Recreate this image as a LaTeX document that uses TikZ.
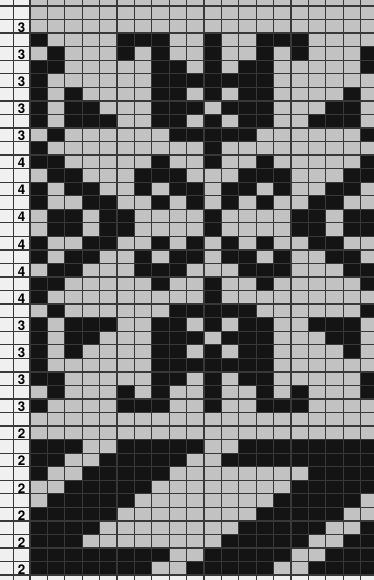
\documentclass[tikz,border=0pt]{standalone}
\usepackage{fontspec}
\setsansfont{TeX Gyre Heros}
\usepackage{xcolor}
\usepackage{tikz}
\definecolor{cellgray}{gray}{0.76}
\definecolor{margingray}{gray}{0.94}
\definecolor{ruleline}{gray}{0.22}
\newcommand{\CellW}{17.4}
\newcommand{\CellH}{13.55}
\newcommand{\RowTop}[1]{6+(#1-1)*\CellH}
\newcommand{\ColLeft}[1]{30+(#1-1)*\CellW}

\begin{document}
\begin{tikzpicture}[x=0.5mm,y=-0.5mm, every node/.style={font=\sffamily\bfseries\fontsize{19}{19}\selectfont},
  stitch/.style={fill=black!92}, rule/.style={draw=ruleline,line width=0.65mm}]
\useasboundingbox (0,0) rectangle (374,580);
\fill[margingray] (0,0) rectangle (374,580);
\fill[cellgray] (30,0) rectangle (374,{\RowTop{43}});

\foreach \r/\cols in {3/{1,6,7,8,11,14,15,16},4/{2,6,8,11,14,16,20},5/{1,2,8,9,11,13,14,20},
  6/{1,8,9,10,11,12,13,14},7/{1,3,8,9,11,13,14,19},8/{1,3,4,8,9,10,12,13,14,18,19},
  9/{1,3,4,5,8,9,11,13,14,17,18,19},10/{2,9,10,11,12,13,20},11/{1,11},12/{1,2,8,11,14,20},
  13/{2,3,7,8,9,13,14,15,19,20},14/{1,3,4,7,9,10,12,13,15,18,19},15/{1,4,5,8,10,12,14,17,18},
  16/{2,3,5,6,11,16,17,19,20}}{
  \foreach \c in \cols {
    \fill[stitch] ({\ColLeft{\c}},{\RowTop{\r}}) rectangle ++(\CellW,\CellH);
    \fill[stitch] ({\ColLeft{\c}},{\RowTop{33-\r}}) rectangle ++(\CellW,\CellH);
  }
}
\foreach \r/\cols in {33/{1,2,3,6,7,8,9,10,13,14,15,16,17,18,19,20},34/{1,2,5,6,7,8,9,12,13,14,15,16,17,18,19,20},
  35/{1,4,5,6,7,8,17,18,19,20},36/{3,4,5,6,7,16,17,18,19,20},37/{2,3,4,5,6,15,16,17,18,19},
  38/{1,2,3,4,5,14,15,16,17,18},39/{1,2,3,4,13,14,15,16,17,20},40/{1,2,3,12,13,14,15,16,19,20},
  41/{1,2,3,4,5,6,7,8,11,12,13,14,15,18,19,20},42/{1,2,3,4,5,6,7,10,11,12,13,14,17,18,19,20}}{
  \foreach \c in \cols
    \fill[stitch] ({\ColLeft{\c}},{\RowTop{\r}}) rectangle ++(\CellW,\CellH);
}

\foreach \i in {1,...,43}
  \draw[rule] (0,{\RowTop{\i}}) -- (374,{\RowTop{\i}});
\foreach \j in {1,...,20}
  \draw[rule] ({\ColLeft{\j}},0) -- ({\ColLeft{\j}},580);
\draw[rule] (13.3,0) -- (13.3,580);

\foreach \r/\n in {2/3,4/3,6/3,8/3,10/3,12/4,14/4,16/4,18/4,20/4,22/4,24/3,26/3,28/3,30/3,32/2,34/2,36/2,38/2,40/2,42/2}
  \node (count\r) at (21.6,{\RowTop{\r}+0.5*\CellH+1.2}) {\n};
\end{tikzpicture}
\end{document}
